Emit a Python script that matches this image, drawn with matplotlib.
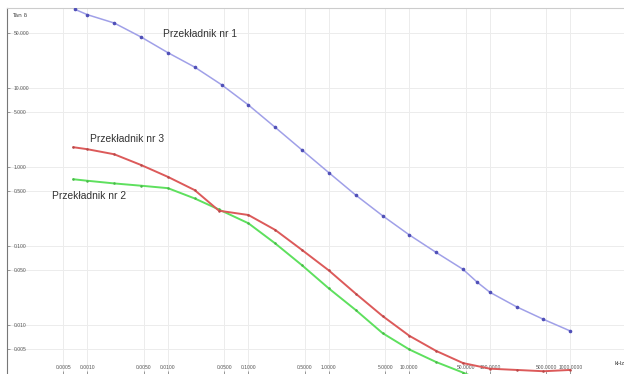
import matplotlib
matplotlib.use("Agg")
import matplotlib.pyplot as plt
from matplotlib.ticker import FixedLocator, FixedFormatter, NullLocator

# ---- data ----
freq_1 = [7e-4, 1e-3, 2.15e-3, 4.64e-3, 1e-2, 2.15e-2, 4.64e-2, 0.1, 0.215, 0.464,
          1, 2.15, 4.64, 10, 21.5, 46.4, 70, 100, 215, 464, 1000]
tan_1 = [99, 84.7, 66.5, 44.2, 28, 18.4, 11.0, 6.1, 3.18, 1.64,
         0.847, 0.442, 0.242, 0.138, 0.083, 0.0507, 0.0347, 0.026, 0.017, 0.0118, 0.0084]

freq_3 = [6.7e-4, 1e-3, 2.15e-3, 4.64e-3, 1e-2, 2.15e-2, 4.3e-2, 0.1, 0.215, 0.464,
          1, 2.15, 4.64, 10, 21.5, 46.4, 100, 215, 464, 1000]
tan_3 = [1.78, 1.68, 1.45, 1.06, 0.75, 0.51, 0.28, 0.247, 0.16, 0.089,
         0.049, 0.025, 0.013, 0.0073, 0.0047, 0.0033, 0.0028, 0.0027, 0.0026, 0.0027]

freq_2 = [6.7e-4, 1e-3, 2.15e-3, 4.64e-3, 1e-2, 2.15e-2, 4.3e-2, 0.1, 0.215, 0.464,
          1, 2.15, 4.64, 10, 21.5, 46.4, 100]
tan_2 = [0.70, 0.67, 0.62, 0.58, 0.54, 0.40, 0.29, 0.194, 0.108, 0.057,
         0.029, 0.0155, 0.0079, 0.0049, 0.0034, 0.0025, 0.0018]

x_ticks = [0.0005, 0.001, 0.005, 0.01, 0.05, 0.1, 0.5, 1, 5, 10, 50, 100, 500, 1000]
x_tick_labels = ["%.4f" % v for v in x_ticks]
y_ticks = [0.005, 0.01, 0.05, 0.1, 0.5, 1, 5, 10, 50]
y_tick_labels = ["%.3f" % v for v in y_ticks]

labels = ["Przekładnik nr 1", "Przekładnik nr 2", "Przekładnik nr 3"]

# ---- figure ----
plt.rcParams['font.family'] = ['Liberation Sans', 'DejaVu Sans']
fig = plt.figure(figsize=(6.24, 3.74), dpi=100)
ax = fig.add_axes([7 / 624, 0.0, 617 / 624, 366 / 374])
ax.set_xscale('log')
ax.set_yscale('log')
ax.set_xlim(1e-4, 10 ** 3.667)
ax.set_ylim(10 ** -2.62, 10 ** 2.013)

ax.grid(True, which='major', color='#ececec', lw=0.7)
ax.set_axisbelow(True)

ax.plot(freq_1, tan_1, color='#a0a0e8', lw=1.1, marker='o', ms=1.6,
        mfc='#5050b8', mec='#5050b8', zorder=3)
ax.plot(freq_2, tan_2, color='#5ee05e', lw=1.4, marker='o', ms=0.8,
        mfc='#48b848', mec='#48b848', zorder=3)
ax.plot(freq_3, tan_3, color='#dc5a5a', lw=1.4, marker='o', ms=0.8,
        mfc='#b84848', mec='#b84848', zorder=4)

ax.xaxis.set_major_locator(FixedLocator(x_ticks))
ax.xaxis.set_major_formatter(FixedFormatter(x_tick_labels))
ax.xaxis.set_minor_locator(NullLocator())
ax.yaxis.set_major_locator(FixedLocator(y_ticks))
ax.yaxis.set_major_formatter(FixedFormatter(y_tick_labels))
ax.yaxis.set_minor_locator(NullLocator())

ax.tick_params(axis='y', direction='in', length=2.5, width=0.6, color='#888888',
               labelsize=3.6, labelcolor='#555555', pad=-5)
for lab in ax.get_yticklabels():
    lab.set_horizontalalignment('left')
ax.tick_params(axis='x', direction='in', length=2, width=0.6, color='#888888',
               labelsize=3.6, labelcolor='#555555', pad=-6.5)

for s in ['right', 'bottom']:
    ax.spines[s].set_visible(False)
ax.spines['left'].set_color('#777777')
ax.spines['left'].set_linewidth(0.8)
ax.spines['top'].set_color('#cccccc')
ax.spines['top'].set_linewidth(0.8)

ax.text(0.008, 0.985, "Tan δ", transform=ax.transAxes, fontsize=4.2,
        color='#444444', va='top', ha='left', family=['DejaVu Sans'])
ax.text(0.985, 0.03, "kHz", transform=ax.transAxes, fontsize=4.2,
        color='#444444', va='center', ha='left')


def fig_text(px, py, s):
    fig.text(px / 624, 1 - py / 374, s, fontsize=7.4, color='#333333',
             ha='left', va='center')


fig_text(163, 34, labels[0])
fig_text(52, 196, labels[1])
fig_text(90, 139, labels[2])

fig.savefig("out.png", dpi=100, facecolor='white')
